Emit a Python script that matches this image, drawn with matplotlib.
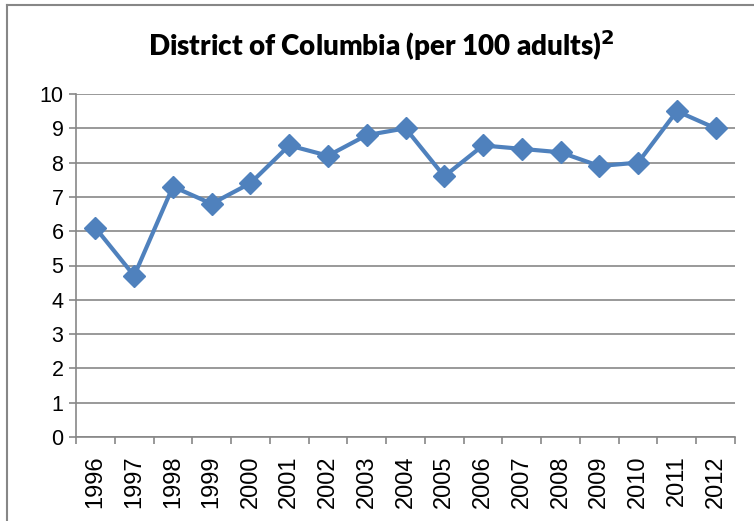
import matplotlib.pyplot as plt
from matplotlib.lines import Line2D
import numpy as np

years = ['1996', '1997', '1998', '1999', '2000', '2001', '2002', '2003',
         '2004', '2005', '2006', '2007', '2008', '2009', '2010', '2011',
         '2012']
values = [6.1, 4.7, 7.3, 6.8, 7.4, 8.5, 8.2, 8.8, 9.0, 7.6, 8.5, 8.4,
          8.3, 7.9, 8.0, 9.5, 9.0]
y_ticks = list(range(0, 11))
title = 'District of Columbia (per 100 adults)$^{\\mathbf{2}}$'

plt.rcParams['font.family'] = ['Liberation Sans', 'DejaVu Sans']

fig = plt.figure(figsize=(7.54, 5.21), dpi=100)
ax = fig.add_axes([76 / 754, 1 - 437 / 521, (735 - 76) / 754, (437 - 94) / 521])

x = np.arange(len(years))
ax.plot(x, values, color='#4F81BD', linewidth=3, marker='D',
        markersize=11.5, zorder=3)

ax.set_xlim(-0.5, len(years) - 0.5)
ax.set_ylim(0, 10)
ax.set_yticks(y_ticks)
ax.set_xticks(x)
ax.set_xticklabels(years, rotation=90)
ax.set_xticks(np.arange(len(years) + 1) - 0.5, minor=True)
ax.tick_params(axis='x', which='major', length=0, pad=13, labelsize=17)
ax.tick_params(axis='x', which='minor', length=5, width=1.2,
               color='#878787', direction='out')
ax.tick_params(axis='y', length=5, width=1.2, color='#878787',
               labelsize=15.5, pad=4)

ax.grid(axis='y', color='#878787', linewidth=1.2)
ax.set_axisbelow(True)
for side in ['top', 'right']:
    ax.spines[side].set_visible(False)
for side in ['left', 'bottom']:
    ax.spines[side].set_color('#878787')
    ax.spines[side].set_linewidth(1.2)

fig.text(381 / 754, 1 - 46 / 521, title, ha='center', va='center',
         fontsize=20, fontweight='heavy', family=['Lato', 'DejaVu Sans'])

# chart border (only top and left visible in the crop)
fig.add_artist(Line2D([7 / 754, 1], [1 - 5 / 521, 1 - 5 / 521],
                      color='#878787', linewidth=1.5))
fig.add_artist(Line2D([7 / 754, 7 / 754], [0, 1 - 5 / 521],
                      color='#878787', linewidth=1.5))

fig.savefig('out.png', dpi=100)
